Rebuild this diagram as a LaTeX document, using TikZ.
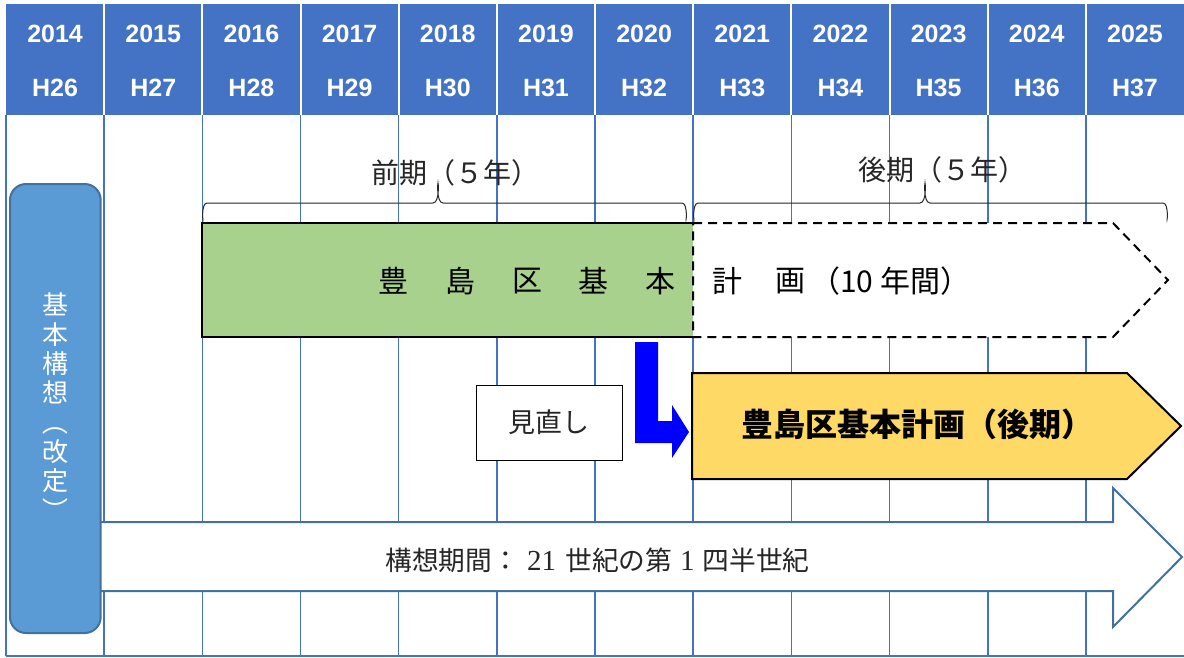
\documentclass[tikz,border=0pt]{standalone}
\usepackage{fontspec}
\usepackage{graphicx}
\newfontfamily\jp{Noto Sans CJK JP}
\newfontfamily\hdr{Liberation Sans}
\newfontfamily\dig{Liberation Serif}
\definecolor{hdrblue}{HTML}{4472C4}
\definecolor{gridblue}{HTML}{4472C4}
\definecolor{pillblue}{HTML}{5B9BD5}
\definecolor{edgeblue}{HTML}{41719C}
\definecolor{planGreen}{HTML}{A9D18E}
\definecolor{planYellow}{HTML}{FFD966}
\definecolor{pureblue}{HTML}{0000FF}
\tikzset{
  gridline/.style={draw=gridblue,line width=1.6pt},
  hdrtext/.style={text=white,font=\hdr\bfseries\fontsize{25}{30}\selectfont,inner sep=0pt},
  bracestyle/.style={draw=black!85,line width=1pt},
  labtext/.style={font=\jp\fontsize{28}{32}\selectfont,inner sep=0pt,text=black!85},
  gtext/.style={font=\jp\fontsize{30}{34}\selectfont,inner sep=0pt},
}
\begin{document}
\begin{tikzpicture}[x=1pt,y=-1pt]
\useasboundingbox (0,0) rectangle (1184,657);
\fill[white] (0,0) rectangle (1184,657);
% grid
\foreach \k in {0,...,11} {
  \draw[gridline] ({6+98.17*\k},115) -- ({6+98.17*\k},656);
}
\draw[gridline] (6,656) -- (1184,656);
% header
\fill[hdrblue] (6,4) rectangle (1184,115);
\foreach \k in {1,...,11} {
  \draw[white,line width=2pt] ({6+98.17*\k},4) -- ({6+98.17*\k},115);
}
\foreach \i in {0,...,11} {
  \pgfmathtruncatemacro{\yr}{2014+\i}
  \pgfmathtruncatemacro{\hs}{26+\i}
  \node[hdrtext] (yr\i) at ({6+98.17*(\i+0.5)},34) {\yr};
  \node[hdrtext] (hs\i) at ({6+98.17*(\i+0.5)},87.5) {H\hs};
}
% braces and labels
\draw[bracestyle] (203,218) to[out=-90,in=180] (207,203) -- (433,203) to[out=0,in=90] (438,185) to[out=90,in=180] (443,203) -- (682,203) to[out=0,in=-90] (686,218);
\draw[bracestyle] (694,218) to[out=-90,in=180] (698,203) -- (920,203) to[out=0,in=90] (925,185) to[out=90,in=180] (930,203) -- (1163,203) to[out=0,in=-90] (1167,218);
\node[labtext] (zenki) at (455,173) {前期（５年）};
\node[labtext] (kouki) at (942,170) {後期（５年）};
% green part of plan bar
\fill[planGreen] (202,223) rectangle (693,337);
\draw[line width=2pt] (693,223) -- (202,223) -- (202,337) -- (693,337);
% dashed continuation
\draw[line width=2pt,dash pattern=on 9pt off 6pt,fill=white] (693,223) -- (1113,223) -- (1168,280) -- (1113,337) -- (693,337) -- cycle;
\foreach \c/\x [count=\n] in {豊/393,島/460,区/527,基/593,本/660,計/727,画/790} {
  \node[gtext] (g\n) at (\x,281) {\c};
}
\node[gtext,anchor=west] (gp) at (810,281) {（10 年間）};
% blue L arrow
\fill[pureblue] (635,342) -- (658,342) -- (658,421) -- (672,421) -- (672,405) -- (689,432) -- (672,458) -- (672,443) -- (635,443) -- cycle;
% review box
\node[draw=black,line width=1pt,fill=white,minimum width=146pt,minimum height=75pt,inner sep=0pt,font=\jp\fontsize{27}{30}\selectfont,text=black!85] (minaoshi) at (549,422.5) {見直し};
% yellow pentagon
\draw[line width=2pt,fill=planYellow] (692,373) -- (1127,373) -- (1181,426) -- (1127,479) -- (692,479) -- cycle;
\node[font=\jp\bfseries\fontsize{32}{36}\selectfont,inner sep=0pt] (kouki2) at (917,424) {豊島区基本計画（後期）};
% big white arrow
\draw[draw=edgeblue,line width=2pt,fill=white] (95,522) -- (1113,522) -- (1113,488) -- (1182,557) -- (1113,627) -- (1113,591) -- (95,591) -- cycle;
\node[font=\jp\fontsize{26.7}{30}\selectfont,inner sep=0pt,text=black!85] (kousou) at (597.5,560) {構想期間：\hspace{0.3em}{\dig\fontsize{29}{30}\selectfont 21}\hspace{0.35em}世紀の第\hspace{0.3em}{\dig\fontsize{29}{30}\selectfont 1}\hspace{0.3em}四半世紀};
% left pill
\draw[rounded corners=16pt,fill=pillblue,draw=edgeblue,line width=2pt] (10,184) rectangle (100.7,633);
\node[font=\jp\fontsize{26}{29.3}\selectfont,text=white,align=center,inner sep=0pt] (kihon) at (55,408) {基\\本\\構\\想\\\rotatebox[origin=c]{-90}{（}\\改\\定\\\rotatebox[origin=c]{-90}{）}};
\end{tikzpicture}
\end{document}
